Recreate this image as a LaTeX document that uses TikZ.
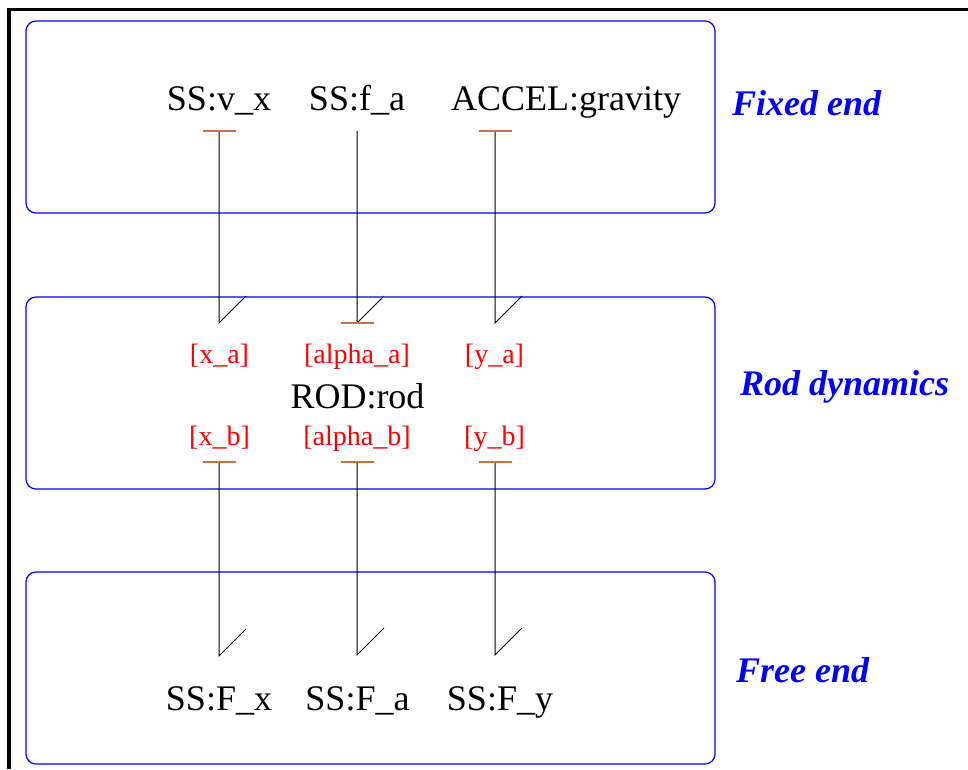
\documentclass[tikz,border=0pt]{standalone}
\usepackage{fontspec}
\setmainfont{Liberation Serif}
\definecolor{barc}{RGB}{196,116,66}
\begin{document}
\begin{tikzpicture}[x=1pt,y=-1pt,
  comp/.style={font=\fontsize{36}{40}\selectfont, inner sep=0pt, anchor=base},
  port/.style={font=\fontsize{28}{31}\selectfont, text=red, inner sep=0pt, anchor=base},
  lbl/.style={font=\fontsize{36}{40}\selectfont\bfseries\itshape, text=blue, inner sep=0pt, anchor=base west},
  grp/.style={draw=blue, line width=1.2pt, rounded corners=10pt, inner sep=0pt, minimum width=689pt, minimum height=192pt},
  bond/.style={draw=black, line width=1pt},
  stroke/.style={draw=barc, line width=1.5pt}]
\useasboundingbox (0,0) rectangle (968,769);
\draw[line width=3.5pt] (9,769) -- (9,9.7) -- (968,9.7);
% group boxes
\node[grp] (fixedbox) at (370.5,117) {};
\node[grp] (rodbox) at (370.5,393) {};
\node[grp] (freebox) at (370.5,668) {};
% group labels
\node[lbl] (fixedlbl) at (732,115) {Fixed end};
\node[lbl] (rodlbl) at (740,395) {Rod dynamics};
\node[lbl] (freelbl) at (736,682) {Free end};
% components
\node[comp] (vx) at (219,110) {SS:v\_x};
\node[comp] (fa) at (357,110) {SS:f\_a};
\node[comp] (grav) at (566,110) {ACCEL:gravity};
\node[comp] (rod) at (357.5,408) {ROD:rod};
\node[comp] (Fx) at (219,710) {SS:F\_x};
\node[comp] (Fa) at (357.5,710) {SS:F\_a};
\node[comp] (Fy) at (500,710) {SS:F\_y};
% ports
\node[port] (xa) at (219.5,363) {[x\_a]};
\node[port] (alphaa) at (357,363) {[alpha\_a]};
\node[port] (ya) at (494.5,363) {[y\_a]};
\node[port] (xb) at (219.5,445) {[x\_b]};
\node[port] (alphab) at (357,445) {[alpha\_b]};
\node[port] (yb) at (494.5,445) {[y\_b]};
% connector end points
\coordinate (vx-out) at (219,131);
\coordinate (fa-out) at (357,131);
\coordinate (grav-out) at (495,131);
\coordinate (xa-in) at (219,323);
\coordinate (alphaa-in) at (357,323);
\coordinate (ya-in) at (495,323);
\coordinate (xb-out) at (219,462);
\coordinate (alphab-out) at (357,462);
\coordinate (yb-out) at (495,462);
\coordinate (Fx-in) at (219,656);
\coordinate (Fa-in) at (357,655);
\coordinate (Fy-in) at (495,655);
% connectors (half arrows)
\draw[bond] (vx-out) -- (xa-in) -- ++(27,-27);
\draw[bond] (fa-out) -- (alphaa-in) -- ++(27,-27);
\draw[bond] (grav-out) -- (ya-in) -- ++(27,-27);
\draw[bond] (xb-out) -- (Fx-in) -- ++(27,-27);
\draw[bond] (alphab-out) -- (Fa-in) -- ++(27,-27);
\draw[bond] (yb-out) -- (Fy-in) -- ++(27,-27);
% causal strokes
\foreach \c in {vx-out,grav-out,alphaa-in,xb-out,alphab-out,yb-out}
  \draw[stroke] ([xshift=-16.5pt]\c) -- ([xshift=16.5pt]\c);
\end{tikzpicture}
\end{document}
